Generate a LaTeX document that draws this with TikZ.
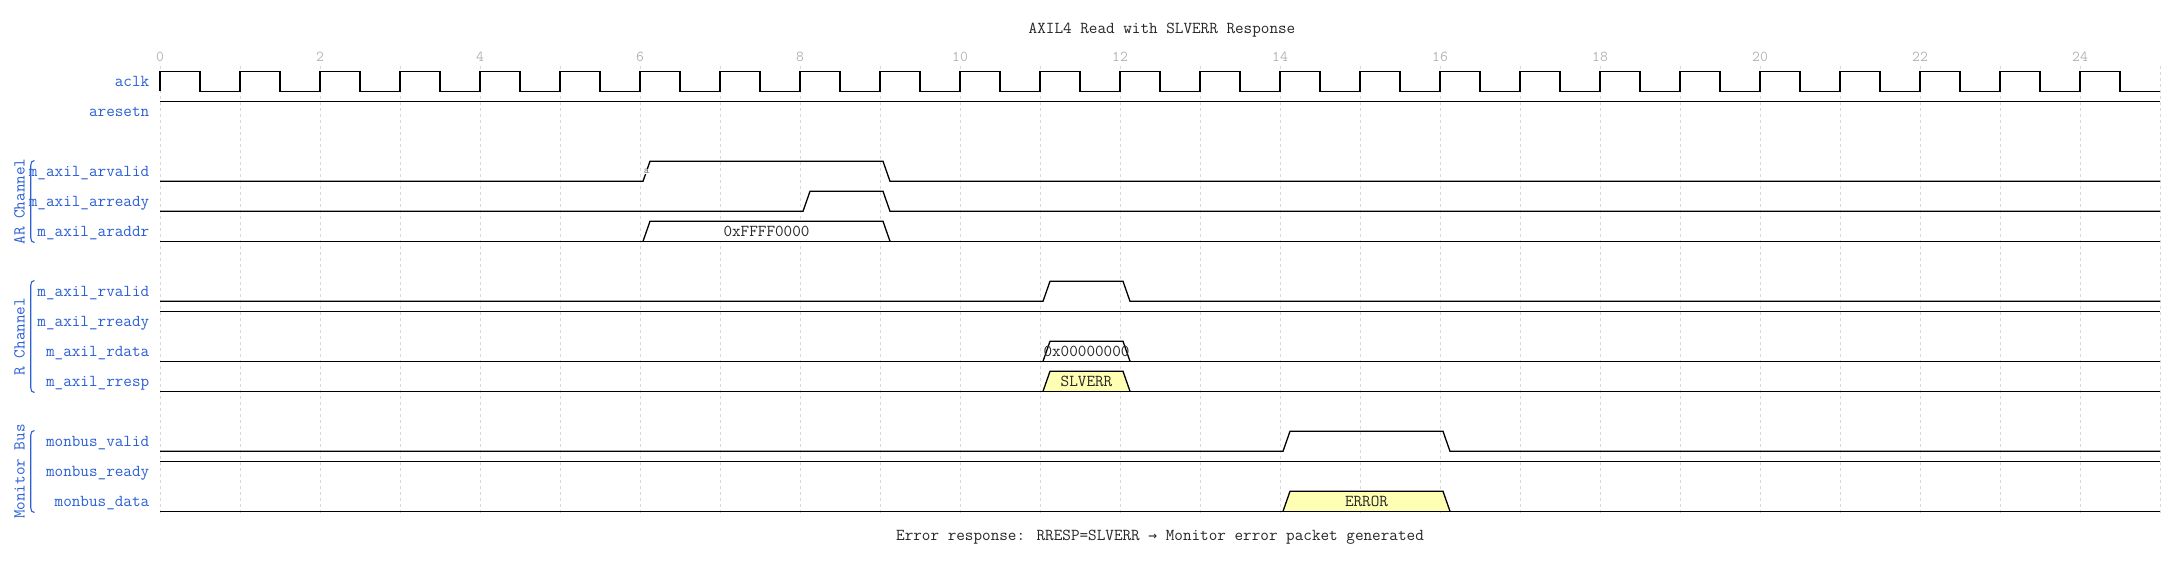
\documentclass[tikz,border=0pt]{standalone}
\usepackage{fontspec}
\newfontfamily\wmono{Latin Modern Mono}
\newfontfamily\warrow{DejaVu Sans Mono}
\definecolor{lblue}{HTML}{2A5FD6}
\definecolor{gridc}{HTML}{D8D8D8}
\definecolor{tickc}{HTML}{B4B4B4}
\definecolor{busy}{HTML}{FFFFB4}
\tikzset{
  sig/.style={line width=1.3pt, black, line join=miter},
  gridline/.style={gridc, line width=0.9pt, dash pattern=on 3pt off 3pt},
  lab/.style={anchor=base east, inner sep=0pt, text=lblue, font=\wmono\fontsize{16.7}{19}\selectfont},
  grp/.style={anchor=base, rotate=90, inner sep=0pt, text=lblue, font=\wmono\fontsize{16.7}{19}\selectfont},
  brk/.style={lblue, line width=1.1pt},
  dtext/.style={anchor=base, inner sep=0pt, text=black!85, font=\wmono\fontsize{16.7}{19}\selectfont},
  ttext/.style={anchor=base, inner sep=0pt, text=black!85, font=\wmono\fontsize{16.7}{19}\selectfont},
  tick/.style={anchor=base, inner sep=0pt, text=tickc, font=\wmono\fontsize{15.2}{17}\selectfont},
}
% lane geometry: high y = 71.3+30*i, low y = 91.3+30*i ; time t at x = 160+80*t
\newcommand\wlow[1]{{91.3+30*#1}}
\newcommand\whigh[1]{{71.3+30*#1}}
\newcommand\wpulse[3]{%
  \draw[sig] (160,\wlow{#1}) -- ({160+80*#2+3},\wlow{#1}) -- ({160+80*#2+10},\whigh{#1})
    -- ({160+80*#3+3},\whigh{#1}) -- ({160+80*#3+10},\wlow{#1}) -- (2160,\wlow{#1});}
\newcommand\wbus[4]{%
  \filldraw[sig, fill=#4] ({160+80*#2+3},\wlow{#1}) -- ({160+80*#2+10},\whigh{#1})
    -- ({160+80*#3+3},\whigh{#1}) -- ({160+80*#3+10},\wlow{#1});
  \draw[sig] (160,\wlow{#1}) -- (2160,\wlow{#1});}
\newcommand\wconst[1]{\draw[sig] (160,\whigh{#1}) -- (2160,\whigh{#1});}
\begin{document}
\begin{tikzpicture}[x=1pt,y=-1pt]
\useasboundingbox (0,0) rectangle (2180,562);
\fill[white] (0,0) rectangle (2180,562);

% title
\node[ttext] (title) at (1162,34) {AXIL4 Read with SLVERR Response};

% grid and ticks
\foreach \t in {0,...,25} {
  \draw[gridline] ({160+80*\t},66) -- ({160+80*\t},516);
}
\foreach \t in {0,2,...,24} {
  \node[tick] (tick\t) at ({160+80*\t},61.7) {\t};
}

% clock
\draw[sig] (160,91.3) \foreach \k in {0,...,24} {
  -- ({160+80*\k},71.3) -- ({200+80*\k},71.3) -- ({200+80*\k},91.3) -- ({240+80*\k},91.3) };

% aresetn
\wconst{1}

% AR channel
\wpulse{3}{6}{9}
\node[fill=white, inner sep=0.6pt, text=black!60, font=\wmono\fontsize{10}{10}\selectfont] (na) at (646.6,171.6) {a};
\wpulse{4}{8}{9}
\wbus{5}{6}{9}{white}
\node[dtext] (araddr) at ({160+80*7.5+6.5},236.8) {0xFFFF0000};

% R channel
\wpulse{7}{11}{12}
\wconst{8}
\wbus{9}{11}{12}{white}
\node[dtext] (rdata) at ({160+80*11.5+6.5},356.8) {0x00000000};
\wbus{10}{11}{12}{busy}
\node[dtext] (rresp) at ({160+80*11.5+6.5},386.8) {SLVERR};

% Monitor bus
\wpulse{12}{14}{16}
\wconst{13}
\wbus{14}{14}{16}{busy}
\node[dtext] (mdata) at ({160+80*15+6.5},506.8) {ERROR};

% signal labels
\node[lab] (l0) at (149.5,86.8) {aclk};
\node[lab] (l1) at (149.5,116.8) {aresetn};
\node[lab] (l3) at (149.5,176.8) {m\_axil\_arvalid};
\node[lab] (l4) at (149.5,206.8) {m\_axil\_arready};
\node[lab] (l5) at (149.5,236.8) {m\_axil\_araddr};
\node[lab] (l7) at (149.5,296.8) {m\_axil\_rvalid};
\node[lab] (l8) at (149.5,326.8) {m\_axil\_rready};
\node[lab] (l9) at (149.5,356.8) {m\_axil\_rdata};
\node[lab] (l10) at (149.5,386.8) {m\_axil\_rresp};
\node[lab] (l12) at (149.5,446.8) {monbus\_valid};
\node[lab] (l13) at (149.5,476.8) {monbus\_ready};
\node[lab] (l14) at (149.5,506.8) {monbus\_data};

% group brackets
\draw[brk] (34.5,160.5) .. controls (32,160.5) and (30.7,162.5) .. (30.7,165.5) -- (30.7,237.5) .. controls (30.7,240.5) and (32,242.5) .. (34.5,242.5);
\node[grp] (gAR) at (24.5,201.5) {AR Channel};
\draw[brk] (34.5,280.5) .. controls (32,280.5) and (30.7,282.5) .. (30.7,285.5) -- (30.7,387.5) .. controls (30.7,390.5) and (32,392.5) .. (34.5,392.5);
\node[grp] (gR) at (24.5,336.5) {R Channel};
\draw[brk] (34.5,430.5) .. controls (32,430.5) and (30.7,432.5) .. (30.7,435.5) -- (30.7,507.5) .. controls (30.7,510.5) and (32,512.5) .. (34.5,512.5);
\node[grp] (gM) at (24.5,471.5) {Monitor Bus};

% footer
\node[ttext] (foot) at (1160,540.7) {Error response: RRESP=SLVERR {\warrow\fontsize{14.6}{17}\selectfont →} Monitor error packet generated};
\end{tikzpicture}
\end{document}
